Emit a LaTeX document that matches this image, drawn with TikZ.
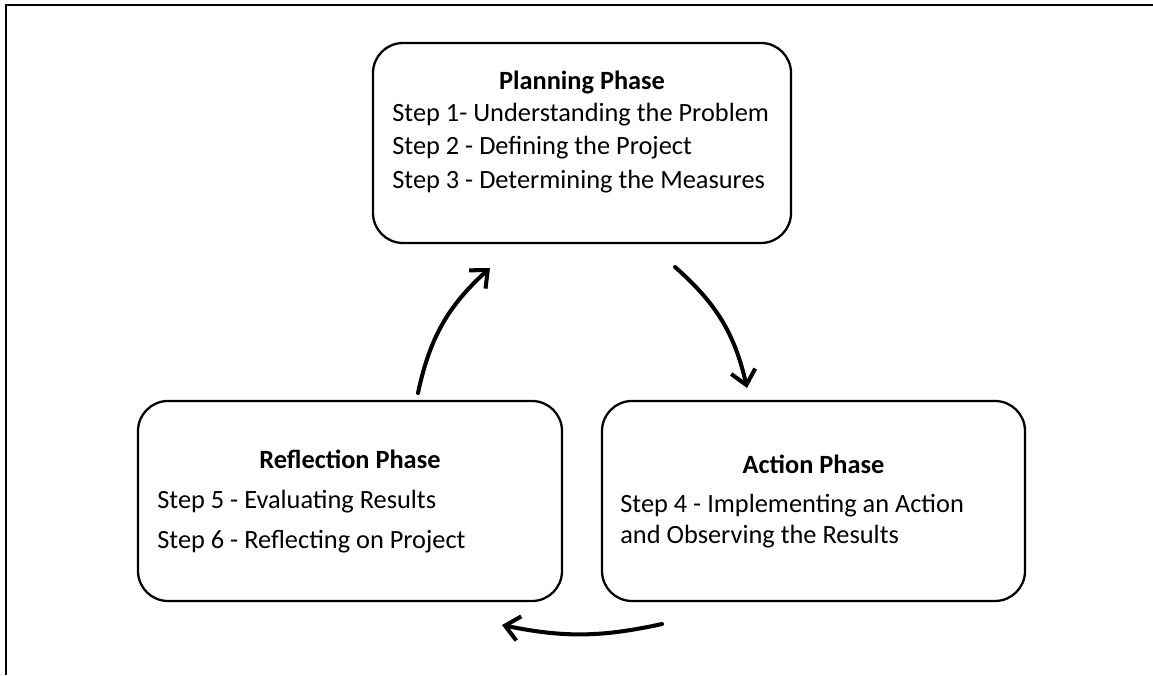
\documentclass[tikz,border=0pt]{standalone}
\usepackage{fontspec}
\setmainfont{Carlito}
\usetikzlibrary{arrows.meta}
\tikzset{
    phasebox/.style={draw, line width=1.3pt, rounded corners=.6cm,
        minimum height=4cm, inner sep=0pt},
    phasetitle/.style={anchor=base, inner sep=0pt,
        font=\fontsize{15}{18}\selectfont\bfseries},
    stepline/.style={anchor=base west, inner sep=0pt,
        font=\fontsize{15}{18}\selectfont},
    cyclearrow/.style={line width=2.3pt, line cap=round,
        -{Straight Barb[length=8pt, width=14pt]}},
}

\begin{document}
\begin{tikzpicture}
        \useasboundingbox (0, 0) rectangle (23.06, 13.5);
        \draw[line width=1.7pt] (.12, 0) -- (.12, 13.4) -- (23.06, 13.4);
        \node[phasebox, minimum width=8.36cm] (plan) at (11.64, 10.64) {};
        \node[phasebox, minimum width=8.48cm] (refl) at (7, 3.48) {};
        \node[phasebox, minimum width=8.46cm] (act) at (16.27, 3.48) {};
        \node[phasetitle] (plantitle) at (11.64, 11.7) {Planning Phase};
        \node[stepline] (step1) at (7.84, 11.07)
            {Step 1- Understanding the Problem};
        \node[stepline] (step2) at (7.84, 10.4)
            {Step 2 - Defining the Project};
        \node[stepline] (step3) at (7.84, 9.73)
            {Step 3 - Determining the Measures};
        \node[phasetitle] (refltitle) at (7, 4.14) {Reflection Phase};
        \node[stepline] (step5) at (3.14, 3.34) {Step 5 - Evaluating Results};
        \node[stepline] (step6) at (3.14, 2.54)
            {Step 6 - Reflecting on Project};
        \node[phasetitle] (acttitle) at (16.27, 4.04) {Action Phase};
        \node[stepline] (step4) at (12.4, 3.26)
            {Step 4 - Implementing an Action};
        \node[stepline] (step4b) at (12.4, 2.64)
            {and Observing the Results};
        \coordinate (reflout) at (8.36, 5.64);
        \coordinate (planin) at (9.8, 8.14);
        \coordinate (planout) at (13.5, 8.16);
        \coordinate (actin) at (14.94, 5.74);
        \coordinate (actout) at (13.24, 1.02);
        \coordinate (reflin) at (10.04, 1);
        \draw[cyclearrow] (reflout) to[bend left=18] (planin);
        \draw[cyclearrow] (planout) to[bend left=18] (actin);
        \draw[cyclearrow] (actout) to[bend left=12] (reflin);
    \end{tikzpicture}
\end{document}
